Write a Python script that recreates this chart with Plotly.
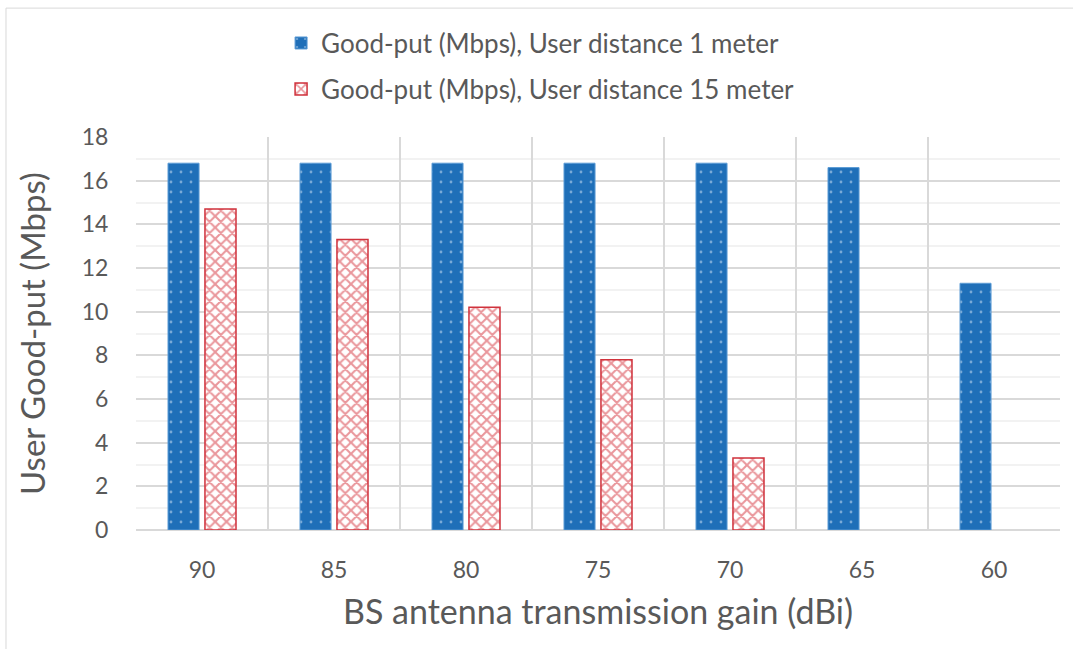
import plotly.graph_objects as go

categories = ["90", "85", "80", "75", "70", "65", "60"]
goodput_1m = [16.8, 16.8, 16.8, 16.8, 16.8, 16.6, 11.3]
goodput_15m = [14.7, 13.3, 10.2, 7.8, 3.3, 0, 0]
name_1m = "Good-put (Mbps), User distance 1 meter"
name_15m = "Good-put (Mbps), User distance 15 meter"

BLUE = "#1F6FB8"
RED = "#D0323C"
GRAY = "#595959"
FONT = "Lato, 'Open Sans', sans-serif"

# zero-height bars are not outlined (as in the original)
red_line_w = [1.5 if v > 0 else 0 for v in goodput_15m]

fig = go.Figure()
fig.add_trace(go.Bar(
    x=categories, y=goodput_1m, name=name_1m, legend="legend",
    marker=dict(color=BLUE, line=dict(color="#5B9BD5", width=1),
                pattern=dict(shape=".", fgcolor="#D6E6F5", bgcolor=BLUE,
                             size=10, solidity=0.06)),
))
fig.add_trace(go.Bar(
    x=categories, y=goodput_15m, name=name_15m, legend="legend2",
    marker=dict(color=RED, line=dict(color=RED, width=red_line_w),
                pattern=dict(shape="x", fgcolor="#D42E38", bgcolor="white",
                             size=8, solidity=0.45)),
))

legend_common = dict(xanchor="left", yanchor="middle",
                     font=dict(size=26, color=GRAY, family=FONT),
                     bgcolor="rgba(0,0,0,0)", itemwidth=30, visible=True)

fig.update_layout(
    width=1073, height=649,
    margin=dict(l=136, r=13, t=137, b=119),
    paper_bgcolor="white", plot_bgcolor="white",
    font=dict(family=FONT, color=GRAY),
    showlegend=True,
    barmode="group", bargap=0.44, bargroupgap=0.16,
    legend=dict(x=0.157, y=1.239, **legend_common),
    legend2=dict(x=0.157, y=1.122, **legend_common),
    xaxis=dict(
        type="category", tickson="boundaries", showgrid=True,
        gridcolor="#D9D9D9", gridwidth=1.5,
        ticks="", ticklabelstandoff=24,
        tickfont=dict(size=23, color=GRAY),
        title=dict(text="BS antenna transmission gain (dBi)",
                   font=dict(size=34, color=GRAY), standoff=18),
        showline=False,
    ),
    yaxis=dict(
        range=[0, 18], dtick=2, showgrid=True, gridcolor="#D9D9D9", gridwidth=1.5,
        minor=dict(dtick=1, showgrid=True, gridcolor="#F2F2F2", gridwidth=1.5),
        ticks="outside", ticklen=22, tickcolor="rgba(0,0,0,0)",
        tickfont=dict(size=23, color=GRAY),
        title=dict(text="User Good-put (Mbps)", font=dict(size=33, color=GRAY), standoff=26),
        zeroline=True, zerolinecolor="#D9D9D9", zerolinewidth=2,
    ),
    shapes=[dict(type="rect", xref="paper", yref="paper",
                 x0=-0.1407, x1=1.05, y0=-0.35, y1=1.328,
                 line=dict(color="#D9D9D9", width=1), layer="below")],
)

fig.write_html("out.html", config={"displayModeBar": False},
               post_script="document.body.style.margin='0';")
